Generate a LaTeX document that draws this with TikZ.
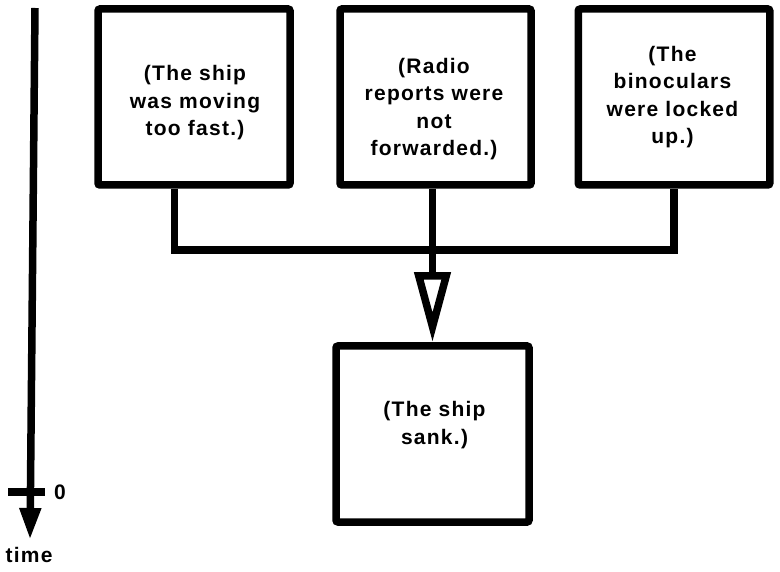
\documentclass[tikz,border=0pt]{standalone}
\usepackage{fontspec}
\setmainfont{Liberation Sans}[LetterSpace=6]
\usetikzlibrary{arrows.meta}

\begin{document}
\begin{tikzpicture}[x=1pt, y=-1pt, line width=7.5pt,
    box/.style={draw, rounded corners=2pt, minimum width=192pt, minimum height=176pt, inner sep=0pt},
    txt/.style={align=center, font=\bfseries\fontsize{21}{27.5}\selectfont, inner sep=0pt},
    >={Triangle[open, length=70pt, width=35pt]}]
    \useasboundingbox (0,0) rectangle (780,572);

    % Trục thời gian
    \coordinate (ttop) at (35,8);
    \coordinate (tend) at (30,540);
    \coordinate (tzero) at (30,492);
    \draw[-{Triangle[length=32pt, width=20pt]}] (ttop) -- (tend);
    \draw[line width=8pt] (tzero) ++(-22,0) -- ++(37,0);
    \node[txt] (zero) at (60,492) {0};
    \node[txt] (time) at (29,555) {time};

    % Các ô nguyên nhân
    \node[box] (moving) at (194,97) {};
    \node[box, minimum width=191pt] (radio) at (435.5,97) {};
    \node[box, minimum width=191.5pt] (binoc) at (674,97) {};
    \node[txt] (movingtxt) at (195,103) {(The ship\\was moving\\too fast.)};
    \node[txt] (radiotxt) at (434,109) {(Radio\\reports were\\not\\forwarded.)};
    \node[txt] (binoctxt) at (672.5,97) {(The\\binoculars\\were locked\\up.)};

    % Ô kết quả
    \node[box, minimum width=193pt] (sank) at (432.5,434) {};
    \node[txt] (sanktxt) at (434.5,425) {(The ship\\sank.)};

    % Thanh nối
    \coordinate (barL) at (174.5,250);
    \coordinate (barR) at (674,250);
    \draw[line join=miter] (moving.south -| barL) -- (barL) -- (barR) -- (binoc.south -| barR);
    \draw[->] (radio.south -| sank.north) -- (sank.north);
\end{tikzpicture}
\end{document}
